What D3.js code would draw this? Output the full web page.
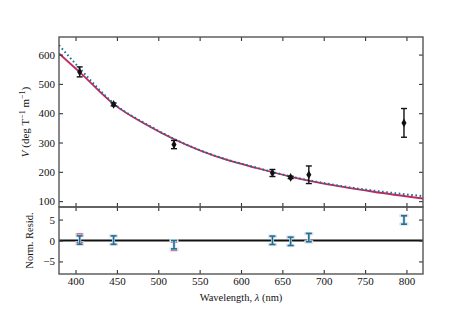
<!DOCTYPE html>
<html><head><meta charset="utf-8">
<script src="https://cdn.jsdelivr.net/npm/d3@7"></script>
<style>body{margin:0;background:#fff}svg{display:block}text{font-family:"Liberation Serif","DejaVu Serif",serif;fill:#111}</style>
</head><body><svg id="c" width="471" height="314"></svg>
<script>
// Data
const wavelengths = [405, 446, 519, 638, 660, 682, 797];
const verdet = [541, 430, 293, 196, 181, 190, 367];
const verdetErr = [17, 5, 14, 12, 4, 30, 49];
const fitRedLam = [380, 405, 446, 490, 518, 586, 611, 659, 720, 760, 820];
const fitRedV   = [604, 540, 431, 354, 313, 238, 219, 184, 150, 132, 109];
const fitBlueLam = [380, 405, 446, 490, 518, 586, 611, 659, 720, 760, 820];
const fitBlueV   = [632, 553, 434, 356, 314, 239, 220, 185, 152, 136, 117];
const residRed  = [0.5, 0.1, -1.3, 0.0, -0.2, 0.6, 5.0];
const residBlue = [0.1, 0.1, -1.0, 0.05, -0.2, 0.7, 4.9];
const xTicks = [400, 450, 500, 550, 600, 650, 700, 750, 800];
const yTicks = [100, 200, 300, 400, 500, 600];
const rTicks = [-5, 0, 5];

const red = "#c2285a", blue = "#1c6f97", spine = "#555";
const svg = d3.select("#c");
const L = 59, R = 423, T1 = 37, B1 = 207, B2 = 274;
const x = d3.scaleLinear().domain([380, 820]).range([L, R]);
const y = d3.scaleLinear().domain([80, 660]).range([B1, T1]);
const yr = d3.scaleLinear().domain([-8, 8]).range([B2, B1]);

const clip = svg.append("defs");
clip.append("clipPath").attr("id","cp1").append("rect").attr("x",L).attr("y",T1).attr("width",R-L).attr("height",B1-T1);

// Curves
const line = d3.line().curve(d3.curveMonotoneX);
const g1 = svg.append("g").attr("clip-path","url(#cp1)");
g1.append("path").attr("d", line(fitRedLam.map((l,i)=>[x(l), y(fitRedV[i])])))
  .attr("fill","none").attr("stroke",red).attr("stroke-width",1.8);
g1.append("path").attr("d", line(fitBlueLam.map((l,i)=>[x(l), y(fitBlueV[i])])))
  .attr("fill","none").attr("stroke",blue).attr("stroke-width",2)
  .attr("stroke-dasharray","1.6,2.6");

// Data error bars
const cap = 3;
wavelengths.forEach((l,i)=>{
  const cx = x(l), y0 = y(verdet[i]-verdetErr[i]), yt = y(verdet[i]+verdetErr[i]);
  const g = svg.append("g").attr("stroke","#111").attr("stroke-width",1.4);
  g.append("line").attr("x1",cx).attr("x2",cx).attr("y1",y0).attr("y2",yt);
  g.append("line").attr("x1",cx-cap).attr("x2",cx+cap).attr("y1",y0).attr("y2",y0);
  g.append("line").attr("x1",cx-cap).attr("x2",cx+cap).attr("y1",yt).attr("y2",yt);
  svg.append("path").attr("d", d3.symbol(d3.symbolDiamond, 22)())
    .attr("transform",`translate(${cx},${y(verdet[i])})`).attr("fill","#111");
});

// Residual panel
svg.append("line").attr("x1",L).attr("x2",R).attr("y1",yr(0)).attr("y2",yr(0))
  .attr("stroke","#111").attr("stroke-width",2);
function residBars(vals, col, halo){
  wavelengths.forEach((l,i)=>{
    const cx = x(l), a = yr(vals[i]-1), b = yr(vals[i]+1);
    const segs = [[cx,a,cx,b],[cx-cap,a,cx+cap,a],[cx-cap,b,cx+cap,b]];
    segs.forEach(s=>{
      svg.append("line").attr("x1",s[0]).attr("y1",s[1]).attr("x2",s[2]).attr("y2",s[3])
        .attr("stroke",halo).attr("stroke-width",2.8).attr("stroke-linecap","square");
    });
    segs.forEach(s=>{
      svg.append("line").attr("x1",s[0]).attr("y1",s[1]).attr("x2",s[2]).attr("y2",s[3])
        .attr("stroke",col).attr("stroke-width",1.6);
    });
  });
}
residBars(residRed, red, "#f0d4dc");
residBars(residBlue, blue, "#d6e6f0");

// Axes (inward ticks)
const tk = 4;
function frame(top, bottom, ys, yTickVals, showX){
  const gT = svg.append("g").attr("transform",`translate(0,${top})`)
    .call(d3.axisTop(x).tickValues(xTicks).tickSize(-tk).tickFormat(""));
  const gB = svg.append("g").attr("transform",`translate(0,${bottom})`)
    .call(d3.axisBottom(x).tickValues(xTicks).tickSize(-tk).tickPadding(3).tickFormat(showX? d3.format("d") : ""));
  const gL = svg.append("g").attr("transform",`translate(${L},0)`)
    .call(d3.axisLeft(ys).tickValues(yTickVals).tickSize(-tk).tickPadding(4)
      .tickFormat(d=> d<0 ? "\u2212"+Math.abs(d) : d));
  const gR = svg.append("g").attr("transform",`translate(${R},0)`)
    .call(d3.axisRight(ys).tickValues(yTickVals).tickSize(-tk).tickFormat(""));
  [gT,gB,gL,gR].forEach(g=>{
    g.select(".domain").remove();
    g.selectAll(".tick line").attr("stroke","#333").attr("stroke-width",1.1);
    g.selectAll("text").attr("font-size",11).attr("fill","#111")
      .attr("font-family","Liberation Serif, serif");
  });
  svg.append("rect").attr("x",L).attr("y",top).attr("width",R-L).attr("height",bottom-top)
    .attr("fill","none").attr("stroke",spine).attr("stroke-width",1.4);
}
frame(T1, B1, y, yTicks, false);
frame(B1, B2, yr, rTicks, true);

// Labels
const yl = svg.append("text").attr("transform",`translate(29,${(T1+B1)/2}) rotate(-90)`)
  .attr("text-anchor","middle").attr("font-size",11);
yl.append("tspan").attr("font-style","italic").text("V");
yl.append("tspan").text(" (deg T");
yl.append("tspan").attr("dy",-4).attr("font-size",8).text("\u22121");
yl.append("tspan").attr("dy",4).text(" m");
yl.append("tspan").attr("dy",-4).attr("font-size",8).text("\u22121");
yl.append("tspan").attr("dy",4).text(")");

svg.append("text").attr("transform",`translate(33,${(B1+B2)/2}) rotate(-90)`)
  .attr("text-anchor","middle").attr("font-size",10.5).text("Norm. Resid.");

const xl = svg.append("text").attr("x",(L+R)/2).attr("y",301).attr("text-anchor","middle").attr("font-size",10.5);
xl.append("tspan").text("Wavelength, ");
xl.append("tspan").attr("font-style","italic").text("\u03bb");
xl.append("tspan").text(" (nm)");
</script></body></html>
